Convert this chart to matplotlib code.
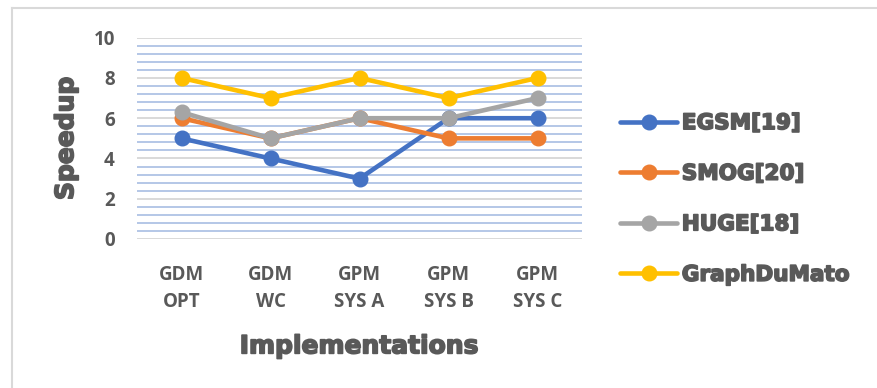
import numpy as np
import matplotlib
matplotlib.use('Agg')
import matplotlib.pyplot as plt
import matplotlib.patheffects as pe
from matplotlib.lines import Line2D

# data
categories = ['GDM\nOPT', 'GDM\nWC', 'GPM\nSYS A', 'GPM\nSYS B', 'GPM\nSYS C']
egsm = [5, 4, 3, 6, 6]
smog = [6, 5, 6, 5, 5]
huge = [6.3, 5, 6, 6, 7]
graphdumato = [8, 7, 8, 7, 8]
series_names = ['EGSM[19]', 'SMOG[20]', 'HUGE[18]', 'GraphDuMato']
y_ticks = [0, 2, 4, 6, 8, 10]

colors = ['#4472C4', '#ED7D31', '#A5A5A5', '#FFC000']
text_col = '#595959'
heavy = [pe.withStroke(linewidth=1.2, foreground=text_col)]

fig = plt.figure(figsize=(8.77, 3.88), dpi=100)
ax = fig.add_axes([137/877, 1-239/388, (582-137)/877, (239-37.7)/388])

x = np.arange(len(categories))
for vals, name, c in zip([egsm, smog, huge, graphdumato], series_names, colors):
    ax.plot(x, vals, color=c, lw=3.3, marker='o', ms=10.5, label=name,
            solid_capstyle='round', zorder=3)

ax.set_xlim(-0.5, len(categories) - 0.5)
ax.set_ylim(0, 10)
ax.set_yticks(y_ticks)
ax.set_yticks(np.arange(0, 10.01, 0.4), minor=True)
ax.grid(which='minor', axis='y', color='#B4C7E7', lw=1.4, zorder=0)
ax.grid(which='major', axis='y', color='#D9D9D9', lw=1.4, zorder=1)
ax.tick_params(axis='y', which='both', length=0, pad=16)
ax.tick_params(axis='x', length=0, pad=19)
ax.set_xticks(x)
ax.set_xticklabels(categories, linespacing=1.45)
for lab in ax.get_xticklabels() + ax.get_yticklabels():
    lab.set_fontfamily(['Open Sans', 'DejaVu Sans'])
    lab.set_fontweight('bold')
    lab.set_fontsize(13.5)
    lab.set_color(text_col)
for s in ax.spines.values():
    s.set_visible(False)

ax.set_ylabel('Speedup', fontsize=18, fontweight='bold', color=text_col,
              family='DejaVu Sans', labelpad=11, path_effects=heavy)
ax.set_xlabel('Implementations', fontsize=18, fontweight='bold', color=text_col,
              family='DejaVu Sans', labelpad=16, path_effects=heavy)

leg = ax.legend(loc='center left', bbox_to_anchor=(620/877, 1-199/388),
                bbox_transform=fig.transFigure, frameon=False,
                borderaxespad=0, borderpad=0,
                prop={'family': 'DejaVu Sans', 'weight': 'bold', 'size': 15.5},
                handlelength=2.65, handletextpad=0.22, labelspacing=1.42)
for t in leg.get_texts():
    t.set_color(text_col)
    t.set_path_effects(heavy)

# outer chart border (only top and left show in the crop)
fig.add_artist(Line2D([11.5/877, 11.5/877], [0, 1-8/388], transform=fig.transFigure,
                      color='#D9D9D9', lw=1.5))
fig.add_artist(Line2D([11.5/877, 1], [1-8/388, 1-8/388], transform=fig.transFigure,
                      color='#D9D9D9', lw=1.5))

fig.savefig('out.png', dpi=100)
